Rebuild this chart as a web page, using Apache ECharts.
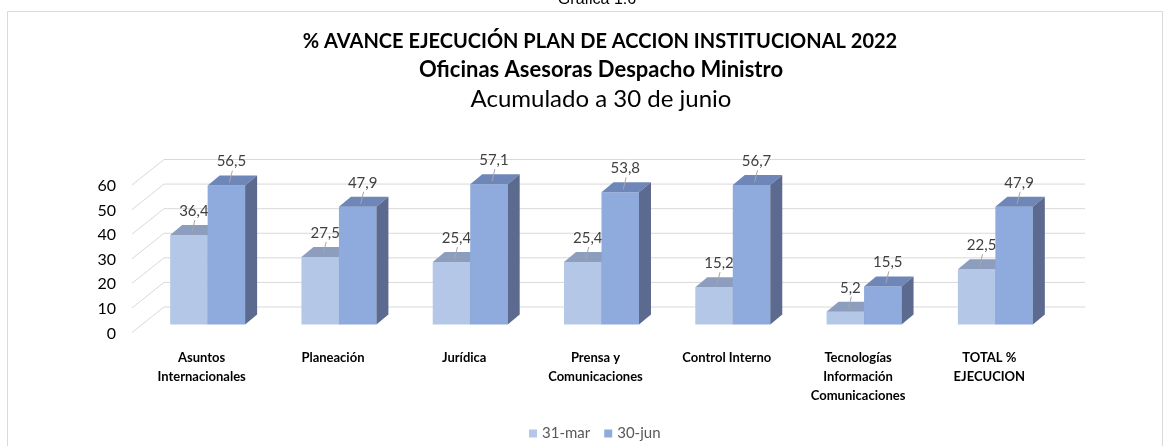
<!DOCTYPE html>
<html>
<head>
<meta charset="utf-8">
<script src="https://cdn.jsdelivr.net/npm/echarts@6/dist/echarts.min.js"></script>
<style>
  html, body { margin: 0; padding: 0; background: #fff; }
  #chart { width: 1169px; height: 446px; }
</style>
</head>
<body>
<div id="chart"></div>
<script>
// data
const categories = ['Asuntos\nInternacionales', 'Planeación', 'Jurídica', 'Prensa y\nComunicaciones', 'Control Interno', 'Tecnologías\nInformación\nComunicaciones', 'TOTAL %\nEJECUCION'];
const marzo = [36.4, 27.5, 25.4, 25.4, 15.2, 5.2, 22.5];
const junio = [56.5, 47.9, 57.1, 53.8, 56.7, 15.5, 47.9];
const yTicks = [0, 10, 20, 30, 40, 50, 60];
const seriesNames = ['31-mar', '30-jun'];

const FONT = 'Lato, "Open Sans", sans-serif';
const DX = 12, DY = -10; // bar depth

const colors = [
  { front: '#b4c7e7', top: '#8d9dbd', side: '#7e8fb0' },
  { front: '#8faadc', top: '#6f86b9', side: '#5b6a8e' }
];

function fmt(v) {
  return v.toFixed(1).replace('.', ',');
}

//3d bar drawn by hand
function barRenderer(idx) {
  return function (params, api) {
    const i = api.value(0), v = api.value(1);
    const top = api.coord([i, v]);
    const base = api.coord([i, 0]);
    const w = api.size([1, 0])[0] * 0.2855;
    const x0 = idx === 0 ? top[0] - w : top[0];
    const yt = top[1], yb = base[1];
    const c = colors[idx];
    const lx = x0 + w / 2 + 5;
    return {
      type: 'group',
      children: [
        { type: 'rect', shape: { x: x0, y: yt, width: w, height: yb - yt }, style: { fill: c.front } },
        { type: 'polygon', shape: { points: [[x0, yt], [x0 + w, yt], [x0 + w + DX, yt + DY], [x0 + DX, yt + DY]] }, style: { fill: c.top } },
        { type: 'polygon', shape: { points: [[x0 + w, yt], [x0 + w + DX, yt + DY], [x0 + w + DX, yb + DY], [x0 + w, yb]] }, style: { fill: c.side } },
        { type: 'line', shape: { x1: lx + 1, y1: yt - 15, x2: lx - 2, y2: yt - 3 }, style: { stroke: '#a6a6a6', lineWidth: 1 } },
        { type: 'text', x: lx, y: yt - 24, style: { text: fmt(v), font: '15px ' + FONT, fill: '#404040', align: 'center', verticalAlign: 'middle' } }
      ]
    };
  };
}

// back wall + left wall lines
function gridRenderer(params, api) {
  const v = api.value(1);
  const y = api.coord([0, v])[1];
  const gl = params.coordSys.x;
  return {
    type: 'polyline',
    shape: { points: [[gl - 10, y + 8], [gl + 22, y - 17.5], [gl + 943, y - 17.5]] },
    style: { stroke: '#d9d9d9', lineWidth: 1, fill: null }
  };
}

const chart = echarts.init(document.getElementById('chart'));
chart.setOption({
  animation: false,
  backgroundColor: '#fff',
  graphic: [
    { type: 'rect', shape: { x: 7.5, y: 11.5, width: 1155, height: 460 }, style: { fill: null, stroke: '#d9d9d9', lineWidth: 1 }, silent: true },
    { type: 'text', x: 597, y: 8, style: { text: 'Gráfica 1.6', font: '16px "Liberation Sans", Arial, sans-serif', fill: '#000', align: 'center', verticalAlign: 'bottom' } }
  ],
  title: [
    { text: '% AVANCE EJECUCIÓN PLAN DE ACCION INSTITUCIONAL 2022', left: 595, top: 27, textAlign: 'center',
      textStyle: { fontFamily: FONT, fontSize: 20, fontWeight: 'bold', color: '#000' } },
    { text: 'Oficinas Asesoras Despacho Ministro', left: 596, top: 54, textAlign: 'center',
      textStyle: { fontFamily: FONT, fontSize: 22, fontWeight: 'bold', color: '#000' } },
    { text: 'Acumulado a 30 de junio', left: 596, top: 82, textAlign: 'center',
      textStyle: { fontFamily: FONT, fontSize: 24, fontWeight: 'normal', color: '#000' } }
  ],
  legend: {
    data: seriesNames,
    left: 524, top: 421,
    icon: 'rect', itemWidth: 8, itemHeight: 8, itemGap: 14,
    textStyle: { fontFamily: FONT, fontSize: 15, color: '#595959' }
  },
  grid: [
    { left: 142, right: 108, top: 177, bottom: 121.5 },
    // same plot moved down: its axis carries the tick labels at the front edge
    { left: 142, right: 108, top: 186, bottom: 112.5 }
  ],
  xAxis: [
    {
      type: 'category',
      data: categories,
      axisLine: { show: false },
      axisTick: { show: false },
      axisLabel: {
        interval: 0, margin: 24, padding: [0, 12, 0, 0],
        fontFamily: FONT, fontSize: 13, fontWeight: 'bold', color: '#000', lineHeight: 19
      }
    },
    { type: 'category', gridIndex: 1, data: categories, show: false }
  ],
  yAxis: [
    {
      type: 'value',
      min: 0, max: 60, interval: 10,
      splitLine: { show: false },
      axisLine: { show: false },
      axisTick: { show: false },
      axisLabel: { show: false }
    },
    {
      type: 'value', gridIndex: 1,
      min: 0, max: 60, interval: 10,
      splitLine: { show: false },
      axisLine: { show: false },
      axisTick: { show: false },
      axisLabel: { margin: 26, fontFamily: FONT, fontSize: 16, color: '#000' }
    }
  ],
  series: [
    {
      type: 'custom', name: 'grid', silent: true, z: 1,
      renderItem: gridRenderer,
      data: yTicks.map(v => [0, v])
    },
    {
      type: 'custom', name: seriesNames[0], z: 2,
      itemStyle: { color: colors[0].front },
      renderItem: barRenderer(0),
      data: marzo.map((v, i) => [i, v])
    },
    {
      type: 'custom', name: seriesNames[1], z: 3,
      itemStyle: { color: colors[1].front },
      renderItem: barRenderer(1),
      data: junio.map((v, i) => [i, v])
    }
  ]
});
</script>
</body>
</html>
